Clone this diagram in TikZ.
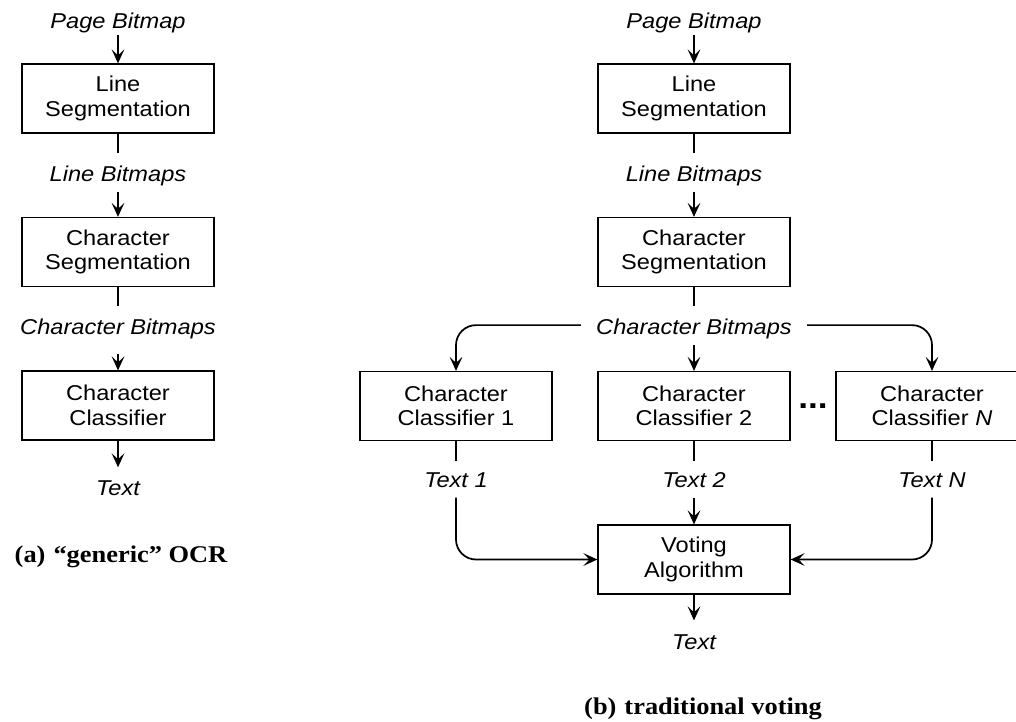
\documentclass[tikz,border=0pt]{standalone}
\usepackage{fontspec}
\setmainfont{Liberation Sans}[FakeStretch=1.1]
\newfontfamily\capfont{Liberation Serif}[FakeStretch=1.1]
\usetikzlibrary{arrows.meta}
\begin{document}
\begin{tikzpicture}[x=0.75pt,y=-0.75pt,
  every node/.style={inner sep=0pt},
  box/.style={draw, line width=0.9pt, minimum width=144pt, minimum height=51.75pt,
    align=center, font=\fontsize{16.1}{18.45}\selectfont},
  lbl/.style={anchor=base, font=\fontsize{16.1}{18.45}\selectfont\itshape},
  capt/.style={anchor=base, font=\capfont\bfseries\fontsize{18}{21}\selectfont},
  conn/.style={line width=1.3pt},
  arr/.style={conn, -{Stealth[length=10.5pt,width=9.5pt,inset=4.5pt]}},
  roundbend/.style={rounded corners=15pt},
]
\useasboundingbox (0,0) rectangle (1016,721);

% ---------- (a) generic OCR ----------
\node[lbl] (pb1) at (118,28.3) {Page Bitmap};
\node[box] (ls1) at (118,98.5) {Line\\Segmentation};
\node[lbl] (lb1) at (118,181) {Line Bitmaps};
\node[box] (cs1) at (118,252) {Character\\Segmentation};
\node[lbl] (cb1) at (118,334.3) {Character Bitmaps};
\node[box] (cc1) at (118,405.5) {Character\\Classifier};
\node[lbl] (tx1) at (118,495) {Text};
\node[capt] (capa) at (121,562.7) {(a)\hspace{6pt}“generic” OCR};

\draw[arr, shorten <=1.6pt] (pb1.south) -- (ls1.north);
\draw[conn, shorten >=9.2pt] (ls1.south) -- (lb1.north);
\draw[arr, shorten <=4.9pt] (lb1.south) -- (cs1.north);
\draw[conn, shorten >=9.4pt] (cs1.south) -- (cb1.north);
\draw[arr, shorten <=10.9pt] (cb1.south) -- (cc1.north);
\draw[arr, shorten >=9.5pt] (cc1.south) -- (tx1.north);

% ---------- (b) traditional voting ----------
\node[lbl] (pb2) at (694,28.3) {Page Bitmap};
\node[box] (ls2) at (694,98.5) {Line\\Segmentation};
\node[lbl] (lb2) at (694,181) {Line Bitmaps};
\node[box] (cs2) at (694,252) {Character\\Segmentation};
\node[lbl] (cb2) at (694,334) {Character Bitmaps};
\node[box] (c1) at (456,406) {Character\\Classifier 1};
\node[box] (c2) at (694,406) {Character\\Classifier 2};
\node[box] (cN) at (932,406) {Character\\Classifier \textit{N}};
\node[anchor=base, font=\fontsize{24}{24}\selectfont\bfseries] (dots) at (813,408) {...};
\node[lbl] (t1) at (456,487.7) {Text 1};
\node[lbl] (t2) at (694,487.7) {Text 2};
\node[lbl] (tN) at (932,487.7) {Text \textit{N}};
\node[box] (vote) at (694,559.5) {Voting\\Algorithm};
\node[lbl] (tx2) at (694,649.3) {Text};
\node[capt] (capb) at (703,714) {(b)\hspace{6pt}traditional voting};

\draw[arr, shorten <=1.6pt] (pb2.south) -- (ls2.north);
\draw[conn, shorten >=9.2pt] (ls2.south) -- (lb2.north);
\draw[arr, shorten <=4.9pt] (lb2.south) -- (cs2.north);
\draw[conn, shorten >=9.4pt] (cs2.south) -- (cb2.north);
\draw[arr, shorten <=4.9pt] (cb2.south) -- (c2.north);
\draw[arr, roundbend, shorten <=11.25pt] ([yshift=2.5pt]cb2.west) -| (c1.north);
\draw[arr, roundbend, shorten <=11.25pt] ([yshift=2.5pt]cb2.east) -| (cN.north);
\draw[conn, shorten >=8.7pt] (c1.south) -- (t1.north);
\draw[conn, shorten >=8.7pt] (c2.south) -- (t2.north);
\draw[conn, shorten >=8.7pt] (cN.south) -- (tN.north);
\draw[arr, roundbend, shorten <=7pt] (t1.south) |- (vote.west);
\draw[arr, roundbend, shorten <=7pt] (tN.south) |- (vote.east);
\draw[arr, shorten <=7.7pt] (t2.south) -- (vote.north);
\draw[arr, shorten >=10.4pt] (vote.south) -- (tx2.north);
\end{tikzpicture}
\end{document}
